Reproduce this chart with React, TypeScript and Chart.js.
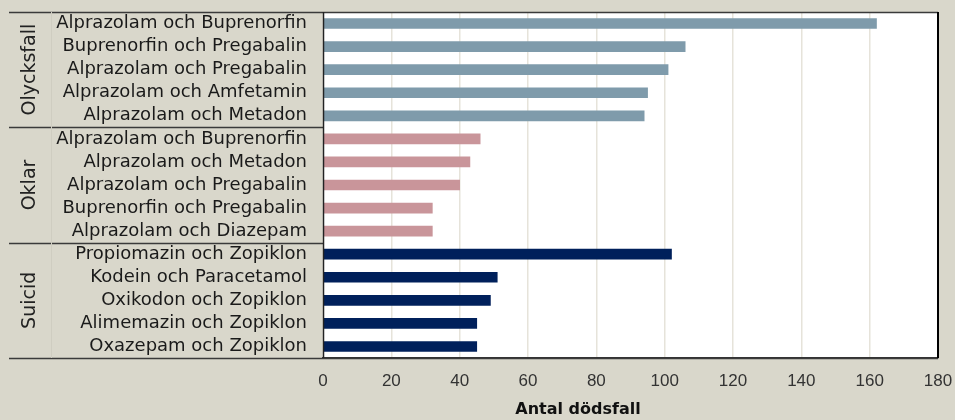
import React, { useEffect, useRef } from "react";
import { Chart, registerables } from "chart.js";

Chart.register(...registerables);

const groupNames = ["Olycksfall", "Oklar", "Suicid"];

const olycksfallLabels = [
  "Alprazolam och Buprenorfin",
  "Buprenorfin och Pregabalin",
  "Alprazolam och Pregabalin",
  "Alprazolam och Amfetamin",
  "Alprazolam och Metadon",
];
const olycksfallValues = [162, 106, 101, 95, 94];

const oklarLabels = [
  "Alprazolam och Buprenorfin",
  "Alprazolam och Metadon",
  "Alprazolam och Pregabalin",
  "Buprenorfin och Pregabalin",
  "Alprazolam och Diazepam",
];
const oklarValues = [46, 43, 40, 32, 32];

const suicidLabels = [
  "Propiomazin och Zopiklon",
  "Kodein och Paracetamol",
  "Oxikodon och Zopiklon",
  "Alimemazin och Zopiklon",
  "Oxazepam och Zopiklon",
];
const suicidValues = [102, 51, 49, 45, 45];

const groupColors = ["#7f9bab", "#c9959a", "#00205b"];
const xTicks = [0, 20, 40, 60, 80, 100, 120, 140, 160, 180];
const xTitle = "Antal dödsfall";

const BG = "#d9d7cb";
const LABEL_FONT = "'DejaVu Sans', sans-serif";

function zeroPad(scale: any) {
  scale.paddingTop = 0;
  scale.paddingBottom = 0;
  scale.paddingLeft = 0;
  scale.paddingRight = 0;
}

export default function App() {
  const canvasRef = useRef<HTMLCanvasElement | null>(null);

  useEffect(() => {
    document.body.style.margin = "0";
    const canvas = canvasRef.current;
    if (!canvas) return;

    const groupLabels = [olycksfallLabels, oklarLabels, suicidLabels];
    const groupValues = [olycksfallValues, oklarValues, suicidValues];
    const labels: string[] = [];
    const values: number[] = [];
    const colors: string[] = [];
    const sizes: number[] = [];
    groupLabels.forEach((ls, g) => {
      sizes.push(ls.length);
      ls.forEach((l, i) => {
        labels.push(l);
        values.push(groupValues[g][i]);
        colors.push(groupColors[g]);
      });
    });

    const decor = {
      id: "decor",
      beforeDraw(chart: any) {
        const { ctx, chartArea } = chart;
        ctx.save();
        ctx.fillStyle = "#ffffff";
        ctx.fillRect(
          chartArea.left,
          chartArea.top,
          chartArea.right - chartArea.left,
          chartArea.bottom - chartArea.top
        );
        ctx.restore();
      },
      afterDraw(chart: any) {
        const { ctx, chartArea } = chart;
        const y = chart.scales.y;
        const p0 = y.getPixelForValue(0);
        const p1 = y.getPixelForValue(1);
        const step = p1 - p0;
        const leftX = 9;
        ctx.save();
        let idx = 0;
        const bounds: number[] = [p0 - step / 2];
        sizes.forEach((s) => {
          idx += s;
          bounds.push(y.getPixelForValue(idx - 1) + step / 2);
        });
        ctx.strokeStyle = "#3a3a3a";
        ctx.lineWidth = 1.5;
        bounds.forEach((b, i) => {
          ctx.beginPath();
          const yy = Math.round(b) + 0.5;
          ctx.moveTo(leftX, yy);
          ctx.lineTo(i === 0 || i === bounds.length - 1 ? chartArea.right : chartArea.left, yy);
          ctx.stroke();
        });
        ctx.strokeStyle = "#cfcdc1";
        ctx.lineWidth = 1;
        ctx.beginPath();
        ctx.moveTo(51.5, bounds[0]);
        ctx.lineTo(51.5, bounds[bounds.length - 1]);
        ctx.stroke();
        ctx.strokeStyle = "#222";
        ctx.lineWidth = 1.5;
        ctx.beginPath();
        ctx.moveTo(chartArea.left + 0.5, chartArea.top);
        ctx.lineTo(chartArea.left + 0.5, chartArea.bottom);
        ctx.stroke();
        ctx.strokeStyle = "#000";
        ctx.lineWidth = 2;
        ctx.beginPath();
        ctx.moveTo(chartArea.right, chartArea.top);
        ctx.lineTo(chartArea.right, chartArea.bottom);
        ctx.stroke();
        ctx.fillStyle = "#222";
        ctx.font = "19px " + LABEL_FONT;
        ctx.textAlign = "center";
        ctx.textBaseline = "middle";
        groupNames.forEach((name, i) => {
          const cy = (bounds[i] + bounds[i + 1]) / 2;
          ctx.save();
          ctx.translate(30, cy);
          ctx.rotate(-Math.PI / 2);
          ctx.fillText(name, 0, 0);
          ctx.restore();
        });
        ctx.fillStyle = "#111";
        ctx.font = "bold 16px " + LABEL_FONT;
        ctx.textAlign = "center";
        ctx.textBaseline = "middle";
        ctx.fillText(xTitle, 578, 410);
        ctx.restore();
      },
    };

    const chart = new Chart(canvas, {
      type: "bar",
      data: {
        labels,
        datasets: [
          {
            label: xTitle,
            data: values,
            backgroundColor: colors,
            barThickness: 10,
          },
        ],
      },
      options: {
        indexAxis: "y",
        animation: false,
        responsive: false,
        maintainAspectRatio: false,
        layout: { padding: { top: 12, right: 17, left: 0, bottom: 0 } },
        plugins: {
          legend: { display: false },
          tooltip: { enabled: false },
        },
        scales: {
          x: {
            type: "linear",
            min: 0,
            max: 180,
            afterBuildTicks: (scale: any) => {
              scale.ticks = xTicks.map((v) => ({ value: v }));
            },
            afterFit: (scale: any) => {
              scale.height = 62;
              zeroPad(scale);
            },
            grid: {
              color: "#e6e3da",
              lineWidth: 1.5,
              drawTicks: false,
            },
            border: { display: true, color: "#333", width: 1.5 },
            ticks: {
              padding: 13,
              color: "#333",
              font: { family: "'Liberation Sans Narrow', 'Liberation Sans', sans-serif", size: 17 },
            },
            title: { display: false },
          },
          y: {
            afterFit: (scale: any) => {
              scale.width = 323;
              zeroPad(scale);
            },
            grid: { display: false, drawTicks: false },
            border: { display: false },
            ticks: {
              padding: 16,
              color: "#1a1a1a",
              autoSkip: false,
              font: { family: LABEL_FONT, size: 18 },
            },
          },
        },
      },
      plugins: [decor],
    } as any);

    return () => chart.destroy();
  }, []);

  return (
    <div
      style={{
        position: "fixed",
        left: 0,
        top: 0,
        width: 955,
        height: 420,
        background: BG,
      }}
    >
      <canvas ref={canvasRef} width={955} height={420} style={{ display: "block" }} />
    </div>
  );
}
